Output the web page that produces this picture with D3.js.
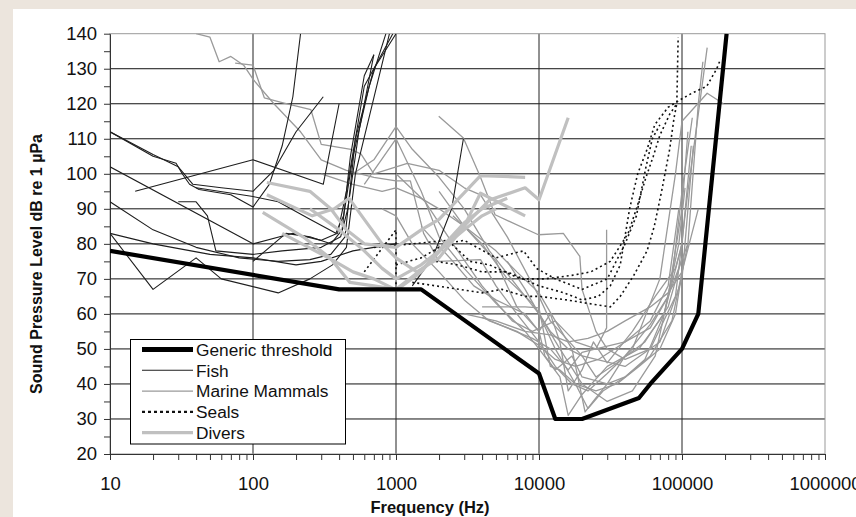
<!DOCTYPE html>
<html>
<head>
<meta charset="utf-8">
<script src="https://cdn.jsdelivr.net/npm/d3@7/dist/d3.min.js"></script>
<style>
  body { margin: 0; background: #ece5dd; }
  svg { display: block; font-family: "Liberation Sans", Arial, sans-serif; }
</style>
</head>
<body>
<svg id="chart" width="856" height="517"></svg>
<script>
const thresholdCurve = [[10,78],[400,67],[1500,67],[10000,43],[13000,30],[20000,30],[50000,36],[60000,40],[100000,50],[130000,60],[205000,140]];

const fishCurves = [
  [[10,112],[20,105],[29,103],[32,100],[36,97],[42,95.5],[70,94],[100,90.5],[130,97],[160,108],[190,122],[215,140]],
  [[10,112],[20,105.5],[30,102],[38,97],[60,96],[100,95],[140,101],[200,112],[310,122]],
  [[15,95],[100,104],[310,97],[400,120]],
  [[40,96],[100,93.5],[150,92],[250,87],[380,83],[430,88],[500,105],[650,125],[850,140]],
  [[30,92],[40,92],[48,88],[55,78],[100,77],[160,78],[300,79],[410,82],[460,90],[550,112],[700,134]],
  [[10,83],[20,80],[50,77],[100,76],[200,74],[300,75],[500,78],[700,79],[1000,80]],
  [[10,83],[20,67],[40,76],[60,70],[150,66],[250,70],[360,74],[450,79],[520,100],[900,140]],
  [[10,102],[100,80],[190,83],[300,81],[390,83],[450,95],[600,125],[950,140]],
  [[10,92],[20,84],[40,79],[80,76],[150,75],[250,75.5],[350,77],[440,82],[520,110],[700,130],[1000,140]],
  [[100,75],[170,83],[250,82],[350,80],[420,84],[480,105],[600,128],[700,134]],
  [[1300,68],[1800,76],[2450,90],[2960,110]]
];

const mammalCurves = [
  [[40,140],[50,139],[58,132],[70,133.5],[86,131],[100,127],[140,120],[215,112],[300,104],[450,101],[700,99],[1000,98],[1260,98],[1560,83],[2000,75],[3900,75.5],[5000,68],[7000,60],[10000,52],[13000,45],[17000,40],[22000,38],[30000,43],[45000,50],[70000,70],[90000,100],[100000,115],[150000,123],[195000,120]],
  [[75,131.6],[100,131],[120,121.7],[165,120.2],[254,118.3],[300,108.4],[484,107],[570,105.6],[700,100],[1200,103],[2000,101],[3000,96],[3900,94],[6000,82],[10000,65],[12000,58],[20000,48],[40000,45],[70000,52],[100000,70],[120000,108]],
  [[500,100],[700,104],[1000,113.5],[1300,107],[2000,99],[3000,90],[4500,78],[7000,68],[10000,60],[14000,50],[20000,40],[30000,35],[45000,38],[65000,48],[85000,70],[100000,95],[118000,116]],
  [[600,97],[1000,110],[1500,95],[2000,82],[3000,73],[5000,63],[8000,55],[10000,50],[14000,42],[16000,31],[20000,37],[30000,45],[50000,50],[75000,60],[100000,80],[116000,108]],
  [[1990,116.4],[2960,110.2],[3880,99.2],[4930,88.3],[9900,82.6],[14800,83],[19300,76.4],[20000,67],[25000,55],[30000,50],[40000,47],[60000,50],[90000,65],[110000,95],[150000,136]],
  [[4000,59],[6000,56],[9000,53],[12000,50],[16000,44],[20000,49],[25000,50],[29700,56],[29700,84]],
  [[4000,62],[8000,62],[10000,61.7],[12000,45],[14000,44],[18000,40],[25000,38],[35000,40],[50000,45],[70000,50],[90000,60],[100000,72]],
  [[1500,85],[2500,75],[3500,68],[5000,64],[8000,60],[10000,55],[11000,48],[13000,44],[17000,48],[20000,42],[30000,40],[40000,48],[60000,57],[80000,65],[110000,80]],
  [[2000,95],[3000,85],[5000,75],[7000,62],[10000,55],[12000,60],[14000,52],[16000,38],[20000,44],[24000,52],[30000,46],[45000,55],[65000,65],[90000,73],[100000,80]],
  [[1000,100],[1600,92],[2500,80],[4000,68],[6500,58],[9000,55],[13000,58],[17000,50],[21000,32],[25000,36],[30000,40],[40000,42],[55000,47],[75000,60],[95000,80],[105000,96]],
  [[3000,60],[5000,58],[8000,55],[12000,54],[16000,52],[22000,53],[30000,55],[40000,58],[60000,62],[80000,66],[100000,72],[130000,90]],
  [[2500,88],[4000,80],[6000,70],[9000,63],[12000,55],[16000,50],[20000,48],[25000,42],[35000,46],[55000,52],[80000,62],[100000,76]],
  [[6000,75],[8000,67],[10000,60],[13000,50],[18000,40],[22000,33],[28000,38],[40000,42],[60000,48],[85000,58],[110000,80],[130000,120],[140000,132]],
  [[300,100],[500,97],[800,95],[1000,96],[1500,93],[2000,90],[3000,85],[5000,78],[7000,72],[10000,66],[13000,58],[18000,52],[25000,50],[40000,52],[60000,56],[80000,65],[100000,90],[110000,112]],
  [[800,90],[1000,88],[1300,80],[2000,72],[3000,64],[4500,58],[7000,55],[10000,51],[13000,47],[18000,45],[26000,47],[40000,52],[60000,58],[80000,68],[95000,90]]
];

const sealCurves = [
  [[700,79],[1300,80],[2300,81],[3300,75],[4500,74],[7400,70],[11000,70],[17000,71],[23000,72],[31500,75],[42000,83],[48000,90],[56000,99],[63000,105],[70000,111],[82000,117],[92000,120],[94000,139]],
  [[1900,75],[2700,74],[4000,72],[6000,72],[10000,68],[15000,66],[20000,64],[26000,65],[31500,68],[37000,74],[43000,90],[49000,100],[57000,107],[64500,114],[80000,119],[96000,121],[117000,123],[149000,125],[175000,130],[183000,132]],
  [[1300,69],[1900,68],[2800,67],[4000,66],[5500,67],[8000,65],[10000,65],[15600,64],[22000,63],[31500,62],[37000,65],[46000,71],[57000,78],[64000,85],[72000,95],[82000,107],[88000,116],[92000,120]],
  [[1000,74],[1500,76],[2200,80],[3000,81],[5000,76],[7800,78],[9600,73],[13000,70],[20000,67],[30000,70],[40000,80],[48000,88],[56000,102],[62000,110],[70000,114]],
  [[600,72],[1000,84],[1000,68]]
];

const diverCurves = [
  [[125,97.5],[250,95],[350,90],[450,84],[600,80],[1000,79],[1500,84],[2000,87],[3900,99.5],[8000,99]],
  [[117,89],[224,82],[345,76],[476,69],[700,68],[1000,67],[1550,73],[2660,83],[4500,92.5],[8000,96],[10000,92.6],[16000,116]],
  [[125,94],[260,88],[370,90],[470,93],[600,87],[800,80],[1000,76],[1400,72],[2000,76],[3000,85],[3900,94.5],[8000,88]],
  [[160,83],[363,75.3],[500,72],[700,70],[1010,66.8],[1500,72],[2200,80],[3000,86],[4000,90],[6000,93]],
  [[250,90],[400,84],[600,78],[800,73],[1000,70],[1500,74],[2000,78],[3000,84],[4000,88],[5000,90]]
];

const decades = [10, 100, 1000, 10000, 100000, 1000000];
const yLabels = [20, 30, 40, 50, 60, 70, 80, 90, 100, 110, 120, 130, 140];
const legendNames = ["Generic threshold", "Fish", "Marine Mammals", "Seals", "Divers"];

const styles = {
  threshold: { stroke: "#000", width: 4.2, dash: null },
  fish: { stroke: "#1e1e1e", width: 1.1, dash: null },
  mammal: { stroke: "#9a9a9a", width: 1.3, dash: null },
  seal: { stroke: "#111", width: 1.6, dash: "2,3" },
  diver: { stroke: "#c0c0c0", width: 3.2, dash: null }
};

const margin = { left: 110, right: 825, top: 33.7, bottom: 454 };
const svg = d3.select("#chart");

const x = d3.scaleLog().domain([10, 1e6]).range([margin.left, margin.right]);
const y = d3.scaleLinear().domain([20, 140]).range([margin.bottom, margin.top]);

svg.append("rect").attr("x", 13).attr("y", 9).attr("width", 843).attr("height", 508).attr("fill", "#fff");

svg.append("clipPath").attr("id", "plot-clip")
  .append("rect")
  .attr("x", margin.left).attr("y", margin.top)
  .attr("width", margin.right - margin.left).attr("height", margin.bottom - margin.top);

// grid
const grid = svg.append("g").attr("class", "grid");
grid.selectAll("line.h")
  .data(yLabels.filter(v => v > 20 && v < 140))
  .join("line")
  .attr("x1", margin.left).attr("x2", margin.right)
  .attr("y1", d => y(d)).attr("y2", d => y(d))
  .attr("stroke", "#111").attr("stroke-width", 1);
grid.selectAll("line.v")
  .data(decades.slice(1, -1))
  .join("line")
  .attr("x1", d => x(d)).attr("x2", d => x(d))
  .attr("y1", margin.top).attr("y2", margin.bottom)
  .attr("stroke", "#222").attr("stroke-width", 1);
grid.append("rect")
  .attr("x", margin.left).attr("y", margin.top)
  .attr("width", margin.right - margin.left).attr("height", margin.bottom - margin.top)
  .attr("fill", "none").attr("stroke", "#999").attr("stroke-width", 1);

// axes
const minorX = [];
decades.slice(0, -1).forEach(d => { for (let k = 1; k < 10; k++) minorX.push(d * k); });
minorX.push(1e6);

const xAxis = svg.append("g")
  .attr("transform", `translate(0,${margin.bottom})`)
  .call(d3.axisBottom(x).tickValues(minorX).tickSize(6).tickSizeOuter(0)
    .tickFormat(d => decades.includes(d) ? String(d) : ""));
xAxis.select(".domain").attr("stroke", "#333");
xAxis.selectAll(".tick line").attr("stroke", "#333");
xAxis.selectAll("text").attr("y", 23).attr("font-size", 18.5).attr("fill", "#111");

const yAxis = svg.append("g")
  .attr("transform", `translate(${margin.left},0)`)
  .call(d3.axisLeft(y).tickValues(d3.range(20, 141, 5)).tickSize(6).tickSizeOuter(0)
    .tickFormat(d => d % 10 === 0 ? String(d) : ""));
yAxis.select(".domain").attr("stroke", "#333");
yAxis.selectAll(".tick line").attr("stroke", "#333");
yAxis.selectAll("text").attr("x", -13).attr("font-size", 18.5).attr("fill", "#111");

// curves
const line = d3.line().x(d => x(d[0])).y(d => y(d[1]));
const plot = svg.append("g").attr("clip-path", "url(#plot-clip)");

function drawCurves(curves, style, cls) {
  plot.append("g").attr("class", cls)
    .selectAll("path")
    .data(curves)
    .join("path")
    .attr("d", line)
    .attr("fill", "none")
    .attr("stroke", style.stroke)
    .attr("stroke-width", style.width)
    .attr("stroke-dasharray", style.dash)
    .attr("stroke-linejoin", "round");
}

drawCurves(mammalCurves, styles.mammal, "mammals");
drawCurves(fishCurves, styles.fish, "fish");
drawCurves(sealCurves, styles.seal, "seals");
drawCurves(diverCurves, styles.diver, "divers");
drawCurves([thresholdCurve], styles.threshold, "threshold");

// axis titles
svg.append("text")
  .attr("x", 430).attr("y", 513)
  .attr("text-anchor", "middle")
  .attr("font-size", 16.5).attr("font-weight", "bold").attr("fill", "#111")
  .text("Frequency (Hz)");

svg.append("text")
  .attr("transform", `translate(42,264) rotate(-90)`)
  .attr("text-anchor", "middle")
  .attr("font-size", 16).attr("font-weight", "bold").attr("fill", "#111")
  .text("Sound Pressure Level dB re 1 µPa");

// legend
const legendStyles = [styles.threshold, styles.fish, styles.mammal, styles.seal, styles.diver];
const legend = svg.append("g").attr("class", "legend");
legend.append("rect")
  .attr("x", 130.5).attr("y", 339.5).attr("width", 215).attr("height", 104.5)
  .attr("fill", "#fff").attr("stroke", "#000").attr("stroke-width", 1);

const rows = legend.selectAll("g.row")
  .data(legendNames)
  .join("g")
  .attr("transform", (d, i) => `translate(0,${349.5 + i * 20.8})`);

rows.append("line")
  .attr("x1", 142).attr("x2", 193)
  .attr("stroke", (d, i) => legendStyles[i].stroke)
  .attr("stroke-width", (d, i) => i === 0 ? 5 : legendStyles[i].width + (i === 3 ? 0.8 : 0))
  .attr("stroke-dasharray", (d, i) => i === 3 ? "3,3" : null);

rows.append("text")
  .attr("x", 196).attr("y", 6.3)
  .attr("font-size", 17.3).attr("fill", "#111")
  .text(d => d);
</script>
</body>
</html>
